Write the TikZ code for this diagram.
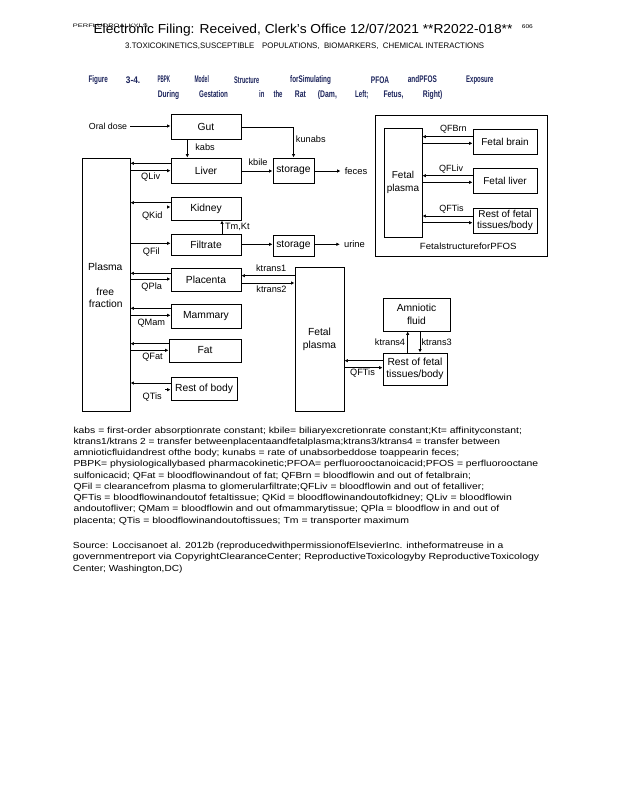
\documentclass[tikz,border=0pt]{standalone}
\usepackage{fontspec}
\setmainfont{Liberation Sans}
\usepackage{graphicx}
\usetikzlibrary{arrows.meta}
\newcommand{\fw}[2]{\resizebox{#1pt}{\height}{#2}}
\definecolor{capblue}{RGB}{28,36,92}
\tikzset{
 box/.style={draw, line width=0.9pt, inner sep=0pt, font=\fontsize{10.3}{12.5}\selectfont, align=center},
 fbox/.style={draw, line width=0.9pt, inner sep=0pt, font=\fontsize{10}{10.7}\selectfont, align=center},
 lab/.style={inner sep=0pt, font=\fontsize{9.2}{11}\selectfont},
 arr/.style={line width=0.9pt, -{Latex[length=3.5pt,width=3.5pt]}},
 ln/.style={line width=0.9pt},
 txt/.style={anchor=base west, inner sep=0pt, font=\fontsize{8.8}{10}\selectfont},
 capw/.style={anchor=base west, inner sep=0pt, font=\fontsize{9.6}{10}\selectfont\bfseries, text=capblue},
}
\begin{document}
\begin{tikzpicture}[x=1pt,y=-1pt]
\useasboundingbox (0,0) rectangle (618,800);
\fill[white] (0,0) rectangle (618,800);
% header
\node[anchor=base west, inner sep=0pt, font=\fontsize{5}{6}\selectfont] (hd0) at (72.7,27.5) {\fw{75}{PERFLUOROALKYLS}};
\node[anchor=base west, inner sep=0pt, font=\fontsize{13}{15}\selectfont] (hd1) at (93.3,33.3) {\fw{419}{Electronic Filing: Received, Clerk's Office 12/07/2021 **R2022-018**}};
\node[anchor=base west, inner sep=0pt, font=\fontsize{5.5}{6}\selectfont] (hd2) at (521.7,28.3) {\fw{11}{606}};
\node[anchor=base west, inner sep=0pt, font=\fontsize{8}{9}\selectfont] (hd3) at (125,48.3) {\fw{359}{3.TOXICOKINETICS,SUSCEPTIBLE\quad POPULATIONS,\ \ BIOMARKERS,\ \ CHEMICAL INTERACTIONS}};
% caption
\node[capw] (c1) at (88.3,83) {\fw{19.4}{Figure}};
\node[capw] (c2) at (125.7,83) {\fw{14.3}{3-4.}};
\node[capw] (c3) at (157.3,83) {\fw{12.7}{PBPK}};
\node[capw] (c4) at (194.3,83) {\fw{14.4}{Model}};
\node[capw] (c5) at (234,83) {\fw{25}{Structure}};
\node[capw] (c6) at (290,83) {\fw{40.7}{forSimulating}};
\node[capw] (c7) at (370.7,83) {\fw{18.3}{PFOA}};
\node[capw] (c8) at (407.7,83) {\fw{29}{andPFOS}};
\node[capw] (c9) at (466,83) {\fw{27.3}{Exposure}};
\node[capw] (d1) at (157.7,97.3) {\fw{21.3}{During}};
\node[capw] (d2) at (199,97.3) {\fw{28.7}{Gestation}};
\node[capw] (d3) at (259,97.3) {\fw{5.3}{in}};
\node[capw] (d4) at (273.3,97.3) {\fw{9}{the}};
\node[capw] (d5) at (294.7,97.3) {\fw{11}{Rat}};
\node[capw] (d6) at (317.7,97.3) {\fw{19}{(Dam,}};
\node[capw] (d7) at (355,97.3) {\fw{13.3}{Left;}};
\node[capw] (d8) at (383.3,97.3) {\fw{20}{Fetus,}};
\node[capw] (d9) at (422.7,97.3) {\fw{19.6}{Right)}};
% dam boxes
\node[box, minimum width=70pt, minimum height=25pt] (gut) at (206,126.5) {Gut};
\node[box, minimum width=70pt, minimum height=25pt] (liver) at (206,170.5) {Liver};
\node[box, minimum width=41pt, minimum height=25pt] (stor1) at (293.5,170.5) {storage};
\node[box, minimum width=70pt, minimum height=23pt] (kidney) at (206,208.5) {Kidney};
\node[box, minimum width=70pt, minimum height=21pt] (filtrate) at (206,244.5) {Filtrate};
\node[box, minimum width=41pt, minimum height=21pt] (stor2) at (293.5,245.5) {storage};
\node[box, minimum width=48pt, minimum height=253pt] (plasma) at (106,284.5) {};
\node[box, minimum width=70pt, minimum height=23pt] (placenta) at (206,279.5) {Placenta};
\node[box, minimum width=70pt, minimum height=24pt] (mammary) at (206,316) {Mammary};
\node[box, minimum width=72pt, minimum height=23pt] (fat) at (205,350.5) {Fat};
\node[box, minimum width=66pt, minimum height=23pt] (rob) at (204,388.5) {Rest of body};
\node[box, minimum width=49pt, minimum height=144pt, font=\fontsize{10.3}{13}\selectfont] (fplasma) at (319.5,339) {Fetal\\plasma};
\node[box, minimum width=67pt, minimum height=33pt, font=\fontsize{10.3}{12.7}\selectfont] (amnio) at (416.5,314.5) {Amniotic\\fluid};
\node[box, minimum width=64pt, minimum height=32pt, font=\fontsize{10.3}{12.3}\selectfont] (rest) at (415,369) {Rest of fetal\\tissues/body};
% plasma labels
\node[inner sep=0pt, font=\fontsize{10.3}{12}\selectfont] (pl1) at (105.3,267.3) {Plasma};
\node[inner sep=0pt, font=\fontsize{10.3}{12}\selectfont] (pl2) at (105.3,291.7) {free};
\node[inner sep=0pt, font=\fontsize{10.3}{12}\selectfont] (pl3) at (105.8,303.7) {fraction};
% free text labels
\node[inner sep=3pt, font=\fontsize{8.8}{10}\selectfont] (oral) at (108,126) {Oral dose};
\node[inner sep=4pt, font=\fontsize{9.4}{11}\selectfont] (feces) at (356,171) {feces};
\node[inner sep=4pt, font=\fontsize{9.4}{11}\selectfont] (urine) at (354.5,244.3) {urine};
\node[lab] (lkabs) at (205,147.7) {kabs};
\node[lab] (lqliv) at (150.7,176.7) {QLiv};
\node[lab] (lkbile) at (258,162.7) {kbile};
\node[lab] (lkun) at (310.8,139.3) {kunabs};
\node[lab] (lqkid) at (152.3,216) {QKid};
\node[lab] (ltm) at (237.3,226.7) {Tm,Kt};
\node[lab] (lqfil) at (151.3,251.7) {QFil};
\node[lab] (lqpla) at (151.7,287) {QPla};
\node[lab] (lqmam) at (151.3,322.7) {QMam};
\node[lab] (lqfat) at (152.5,357) {QFat};
\node[lab] (lqtis) at (152.2,397.3) {QTis};
\node[lab] (lkt1) at (271.2,268.3) {ktrans1};
\node[lab] (lkt2) at (271.5,289.7) {ktrans2};
\node[lab] (lqft) at (362.5,373.3) {QFTis};
\node[lab] (lkt4) at (390,342.3) {ktrans4};
\node[lab] (lkt3) at (436.7,342.3) {ktrans3};
% dam connectors
\draw[arr] (oral.east) -- (gut.west |- oral.east);
\draw[arr] (gut.south -| 187.3,0) -- (liver.north -| 187.3,0);
\draw[arr] (gut.east |- 0,127.7) -| (stor1.north);
\draw[arr] (liver.west |- 0,163.3) -- (plasma.east |- 0,163.3);
\draw[arr] (plasma.east |- 0,170.7) -- (liver.west |- 0,170.7);
\draw[arr] (liver.east |- 0,171) -- (stor1.west |- 0,171);
\draw[arr] (stor1.east |- 0,171) -- (feces.west |- 0,171);
\draw[arr] (kidney.west |- 0,202.7) -- (plasma.east |- 0,202.7);
\coordinate (tk1) at (167.5,207);
\draw[arr] (tk1) -- (kidney.west |- tk1);
\draw[arr] (plasma.east |- 0,243.3) -- (filtrate.west |- 0,243.3);
\draw[arr] (filtrate.north -| 222,0) -- (kidney.south -| 222,0);
\draw[arr] (filtrate.east |- 0,244.3) -- (stor2.west |- 0,244.3);
\draw[arr] (stor2.east |- 0,244.3) -- (urine.west |- 0,244.3);
\draw[arr] (placenta.west |- 0,273.3) -- (plasma.east |- 0,273.3);
\draw[arr] (plasma.east |- 0,279) -- (placenta.west |- 0,279);
\draw[arr] (mammary.west |- 0,308.3) -- (plasma.east |- 0,308.3);
\draw[arr] (plasma.east |- 0,315.3) -- (mammary.west |- 0,315.3);
\draw[arr] (fat.west |- 0,343.7) -- (plasma.east |- 0,343.7);
\draw[arr] (plasma.east |- 0,350.3) -- (fat.west |- 0,350.3);
\draw[arr] (rob.west |- 0,383) -- (plasma.east |- 0,383);
\coordinate (tk2) at (165,389.7);
\draw[arr] (tk2) -- (rob.west |- tk2);
\draw[arr] (fplasma.west |- 0,275.7) -- (placenta.east |- 0,275.7);
\draw[arr] (placenta.east |- 0,283) -- (fplasma.west |- 0,283);
\draw[arr] (rest.west |- 0,360.7) -- (fplasma.east |- 0,360.7);
\draw[arr] (fplasma.east |- 0,367.7) -- (rest.west |- 0,367.7);
\draw[arr] (rest.north -| 407.7,0) -- (amnio.south -| 407.7,0);
\draw[arr] (amnio.south -| 420,0) -- (rest.north -| 420,0);
% fetal structure for PFOS
\node[draw, line width=0.9pt, inner sep=0pt, minimum width=172pt, minimum height=141pt] (outer) at (461,185.5) {};
\node[fbox, minimum width=38pt, minimum height=109pt, font=\fontsize{10}{13.3}\selectfont] (fp2) at (403,182.5) {Fetal\\plasma};
\node[fbox, minimum width=64pt, minimum height=25pt] (fbrain) at (505,141.5) {Fetal brain};
\node[fbox, minimum width=64pt, minimum height=25pt] (fliver) at (505,180.5) {Fetal liver};
\node[fbox, minimum width=64pt, minimum height=25pt] (frest) at (505,220.5) {Rest of fetal\\tissues/body};
\node[lab, font=\fontsize{9}{11}\selectfont] (lqfb) at (453.3,129.3) {QFBrn};
\node[lab, font=\fontsize{9}{11}\selectfont] (lqfl) at (451.2,169) {QFLiv};
\node[lab, font=\fontsize{9}{11}\selectfont] (lqft2) at (451.5,209) {QFTis};
\node[inner sep=0pt, font=\fontsize{9}{11}\selectfont] (fsl) at (468.3,246.7) {\fw{96.7}{FetalstructureforPFOS}};
\draw[arr] (fbrain.west |- 0,136.7) -- (fp2.east |- 0,136.7);
\draw[arr] (fp2.east |- 0,143.3) -- (fbrain.west |- 0,143.3);
\draw[arr] (fliver.west |- 0,175.7) -- (fp2.east |- 0,175.7);
\draw[arr] (fp2.east |- 0,182.3) -- (fliver.west |- 0,182.3);
\draw[arr] (frest.west |- 0,216) -- (fp2.east |- 0,216);
\draw[arr] (fp2.east |- 0,222.7) -- (frest.west |- 0,222.7);
% legend text
\node[txt] (t1) at (73.3,433) {\fw{448.4}{kabs = first-order absorptionrate constant; kbile= biliaryexcretionrate constant;Kt= affinityconstant;}};
\node[txt] (t2) at (73.3,444.25) {\fw{426.7}{ktrans1/ktrans 2 = transfer betweenplacentaandfetalplasma;ktrans3/ktrans4 = transfer between}};
\node[txt] (t3) at (73.3,455.5) {\fw{385.7}{amnioticfluidandrest ofthe body; kunabs = rate of unabsorbeddose toappearin feces;}};
\node[txt] (t4) at (73.3,466.75) {\fw{464.7}{PBPK= physiologicallybased pharmacokinetic;PFOA= perfluorooctanoicacid;PFOS = perfluorooctane}};
\node[txt] (t5) at (73.3,478) {\fw{397.4}{sulfonicacid; QFat = bloodflowinandout of fat; QFBrn = bloodflowin and out of fetalbrain;}};
\node[txt] (t6) at (73.3,489.25) {\fw{410.7}{QFil = clearancefrom plasma to glomerularfiltrate;QFLiv = bloodflowin and out of fetalliver;}};
\node[txt] (t7) at (73.3,500.5) {\fw{438.4}{QFTis = bloodflowinandoutof fetaltissue; QKid = bloodflowinandoutofkidney; QLiv = bloodflowin}};
\node[txt] (t8) at (73.3,511.75) {\fw{425.7}{andoutofliver; QMam = bloodflowin and out ofmammarytissue; QPla = bloodflow in and out of}};
\node[txt] (t9) at (73.3,523) {\fw{335.7}{placenta; QTis = bloodflowinandoutoftissues; Tm = transporter maximum}};
\node[txt] (s1) at (72.7,548) {\fw{430.6}{Source: Loccisanoet al. 2012b (reproducedwithpermissionofElsevierInc. intheformatreuse in a}};
\node[txt] (s2) at (72.7,559.5) {\fw{466.3}{governmentreport via CopyrightClearanceCenter; ReproductiveToxicologyby ReproductiveToxicology}};
\node[txt] (s3) at (72.7,571) {\fw{109.6}{Center; Washington,DC)}};
\end{tikzpicture}
\end{document}
